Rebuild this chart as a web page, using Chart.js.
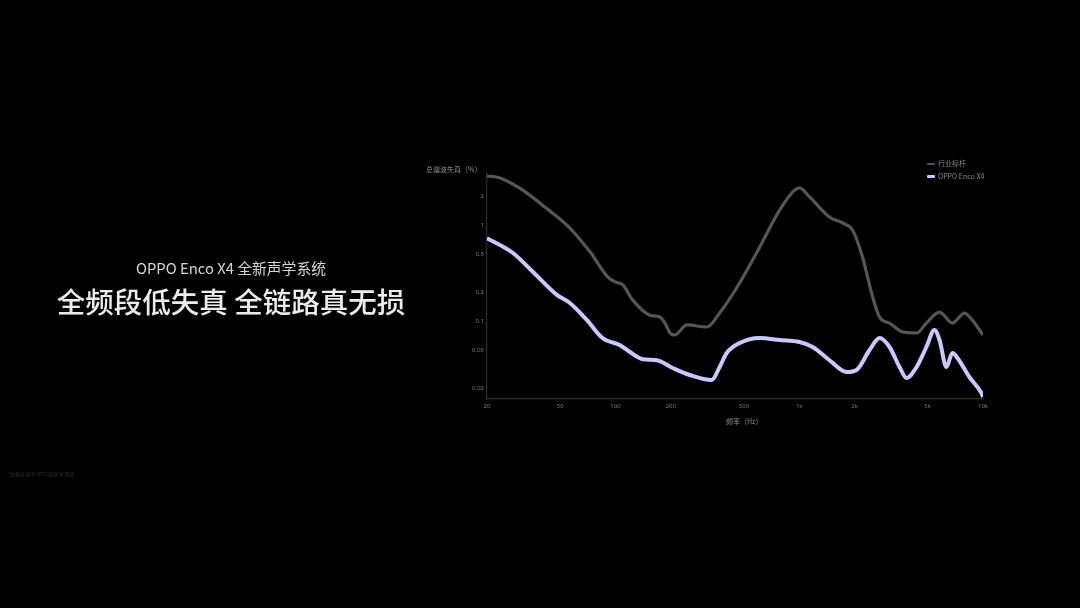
<!DOCTYPE html>
<html lang="zh-CN">
<head>
<meta charset="UTF-8">
<title>OPPO Enco X4 全新声学系统</title>
<script src="https://cdn.jsdelivr.net/npm/chart.js@4.4.1/dist/chart.umd.min.js"></script>
<style>
  html, body {
    margin: 0;
    padding: 0;
    background: #000;
    width: 1080px;
    height: 608px;
    overflow: hidden;
    font-family: "Noto Sans CJK SC", "Noto Sans", sans-serif;
  }
  #stage { position: relative; width: 1080px; height: 608px; }
  #thd-chart { position: absolute; left: 0; top: 0; }
  .intro {
    position: absolute;
    left: 31px;
    width: 400px;
    text-align: center;
    white-space: nowrap;
  }
  .intro.sub { top: 257px; font-size: 14.8px; color: #d6d6d6; }
  .intro.main { top: 280px; font-size: 28.5px; font-weight: 500; color: #ececec; }
  .axis-title { position: absolute; font-size: 7px; color: #8a8a8a; white-space: nowrap; line-height: 1; }
  #legend { position: absolute; left: 927px; top: 157px; font-size: 7px; color: #8a8a8a; line-height: 1; }
  #legend .item { display: flex; align-items: center; height: 13px; white-space: nowrap; }
  #legend .swatch { display: inline-block; width: 8px; margin-right: 3px; border-radius: 1px; }
  .note { position: absolute; left: 8px; top: 470px; font-size: 5px; color: #2c2c2c; white-space: nowrap; }
</style>
</head>
<body>
<div id="stage">
  <canvas id="thd-chart" width="1080" height="608"></canvas>
  <div class="intro sub">OPPO Enco X4 全新声学系统</div>
  <div class="intro main">全频段低失真 全链路真无损</div>
  <div class="axis-title" style="left:426px; top:166px;">总谐波失真（%）</div>
  <div class="axis-title" style="left:726px; top:418px;">频率（Hz）</div>
  <div id="legend"></div>
  <div class="note">*数据来源于OPPO实验室测试</div>
</div>
<script>
// 频率 (Hz) 與總諧波失真 (%)
const freqBenchmark = [20, 23.5, 30, 42, 56.5, 73, 91, 100, 110, 124, 154, 174, 186, 198, 210, 245, 314, 369, 474, 610, 782, 944, 1004, 1138, 1462, 1722, 1950, 2210, 2475, 2734, 3100, 3650, 4350, 4920, 5800, 6820, 7920, 8750, 10000];
const thdBenchmark = [3.24, 3.09, 2.43, 1.5, 0.93, 0.52, 0.287, 0.255, 0.237, 0.166, 0.115, 0.11, 0.095, 0.075, 0.0715, 0.091, 0.0866, 0.121, 0.249, 0.59, 1.43, 2.31, 2.43, 1.96, 1.21, 1.05, 0.887, 0.464, 0.196, 0.11, 0.095, 0.077, 0.075, 0.095, 0.124, 0.095, 0.121, 0.102, 0.0715];

const freqX4 = [20, 27.7, 35.6, 48, 56.5, 70, 85, 106, 120, 141, 168, 205, 254, 334, 369, 403, 474, 610, 782, 1004, 1183, 1462, 1810, 2050, 2414, 2734, 3100, 3514, 3834, 4350, 4920, 5440, 5800, 6320, 6820, 7260, 8430, 9800, 10000];
const thdX4 = [0.73, 0.511, 0.324, 0.187, 0.154, 0.102, 0.0665, 0.056, 0.0475, 0.04, 0.039, 0.0324, 0.0274, 0.0243, 0.0332, 0.0464, 0.059, 0.0665, 0.0634, 0.0604, 0.0536, 0.039, 0.0294, 0.0309, 0.0499, 0.0665, 0.0536, 0.0332, 0.0255, 0.0332, 0.0536, 0.0806, 0.0634, 0.0332, 0.0464, 0.0412, 0.0261, 0.0178, 0.0162];

const seriesLabels = ['行业标杆', 'OPPO Enco X4'];
const xTicks = [20, 50, 100, 200, 500, 1000, 2000, 5000, 10000];
const yTicks = [0.02, 0.05, 0.1, 0.2, 0.5, 1, 2];

const colors = {
  benchmark: '#565656',
  x4: '#c9c8ff',
  axis: '#2e2e2e',
  tick: '#7a7a7a'
};

function toPoints(xs, ys) {
  return xs.map((x, i) => ({ x, y: ys[i] }));
}

function formatFreq(value) {
  return value >= 1000 ? `${value / 1000}k` : `${value}`;
}

const ctx = document.getElementById('thd-chart').getContext('2d');
const thdChart = new Chart(ctx, {
  type: 'line',
  data: {
    datasets: [
      {
        label: seriesLabels[0],
        data: toPoints(freqBenchmark, thdBenchmark),
        borderColor: colors.benchmark,
        borderWidth: 3.2,
        pointRadius: 0,
        cubicInterpolationMode: 'monotone',
        order: 2
      },
      {
        label: seriesLabels[1],
        data: toPoints(freqX4, thdX4),
        borderColor: colors.x4,
        borderWidth: 4,
        pointRadius: 0,
        cubicInterpolationMode: 'monotone',
        order: 1
      }
    ]
  },
  options: {
    responsive: false,
    animation: false,
    layout: {
      padding: { left: 447, right: 97, top: 173, bottom: 189 }
    },
    plugins: {
      legend: { display: false },
      tooltip: { enabled: false }
    },
    scales: {
      x: {
        type: 'logarithmic',
        min: 20,
        max: 10000,
        grid: { display: false, drawTicks: false },
        border: { display: true, color: colors.axis, width: 1.2 },
        afterBuildTicks(scale) {
          scale.ticks = xTicks.map(value => ({ value }));
        },
        afterFit(scale) {
          scale.height = 20;
        },
        ticks: {
          color: colors.tick,
          font: { size: 6, family: 'Noto Sans' },
          padding: 4,
          maxRotation: 0,
          autoSkip: false,
          callback: value => formatFreq(value)
        }
      },
      y: {
        type: 'logarithmic',
        min: 0.0154,
        max: 3.48,
        grid: { display: false, drawTicks: false },
        border: { display: true, color: colors.axis, width: 1.2 },
        afterBuildTicks(scale) {
          scale.ticks = yTicks.map(value => ({ value }));
        },
        afterFit(scale) {
          scale.width = 40;
        },
        ticks: {
          color: colors.tick,
          font: { size: 6, family: 'Noto Sans' },
          padding: 3,
          autoSkip: false,
          callback: value => `${value}`
        }
      }
    }
  }
});

// 圖例用 HTML 產生，放在圖表右上角
const legendBox = document.getElementById('legend');
thdChart.data.datasets.forEach(ds => {
  const item = document.createElement('div');
  item.className = 'item';
  const swatch = document.createElement('span');
  swatch.className = 'swatch';
  swatch.style.background = ds.borderColor;
  swatch.style.height = `${Math.round(ds.borderWidth * 0.7)}px`;
  item.appendChild(swatch);
  item.appendChild(document.createTextNode(ds.label));
  legendBox.appendChild(item);
});
</script>
</body>
</html>
